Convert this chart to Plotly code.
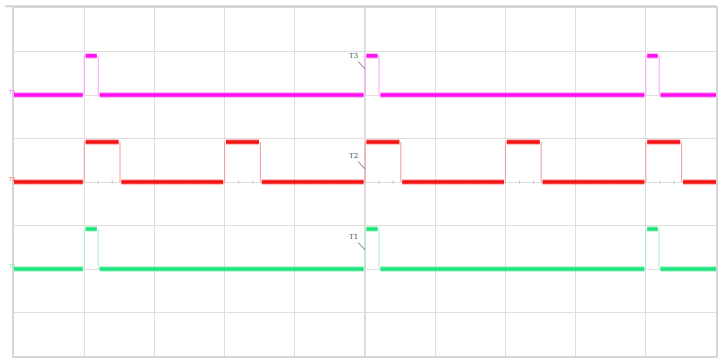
import plotly.graph_objects as go

# Screen: 10 horizontal x 8 vertical divisions
X_DIVS = 10
Y_DIVS = 8

channels = ["T3", "T2", "T1"]
trace_colors = ["#ff10f0", "#f41414", "#1ee47c"]
edge_colors = ["#f6a6f2", "#f49a9a", "#a8f0c8"]
low_levels = [6.0, 4.0, 2.0]          # divisions
high_levels = [6.9, 4.92, 2.92]       # divisions
rise_times = [
    [1.0, 5.0, 9.0],
    [1.0, 3.0, 5.0, 7.0, 9.0],
    [1.0, 5.0, 9.0],
]
fall_times = [
    [1.2, 5.2, 9.19],
    [1.51, 3.51, 5.51, 7.51, 9.51],
    [1.2, 5.2, 9.19],
]
# height of the channel marker's pointer tip above each ground level
marker_tip_heights = [0.6, 0.3, 0.44]

fig = go.Figure()

# minor ticks on the horizontal centre axis
tick_x, tick_y = [], []
for i in range(X_DIVS * 5 + 1):
    t = i / 5
    tick_x += [t, t, None]
    tick_y += [Y_DIVS / 2 - 0.04, Y_DIVS / 2 + 0.04, None]
fig.add_trace(go.Scatter(x=tick_x, y=tick_y, mode="lines",
                         line=dict(color="#c8c8c8", width=1),
                         hoverinfo="skip", showlegend=False))

for k, name in enumerate(channels):
    lo, hi = low_levels[k], high_levels[k]
    rises, falls = rise_times[k], fall_times[k]
    # thin transition edges
    ex, ey = [], []
    for r, f in zip(rises, falls):
        ex += [r, r, None, f, f, None]
        ey += [lo, hi, None, hi, lo, None]
    fig.add_trace(go.Scatter(x=ex, y=ey, mode="lines",
                             line=dict(color=edge_colors[k], width=1),
                             hoverinfo="skip", showlegend=False))
    # settled levels
    sx, sy = [], []
    start = 0.0
    gap = 0.02
    for r, f in zip(rises, falls):
        sx += [start + (gap if start > 0 else 0), r - gap, None, r + gap, f - gap, None]
        sy += [lo, lo, None, hi, hi, None]
        start = f
    sx += [start + gap, X_DIVS]
    sy += [lo, lo]
    fig.add_trace(go.Scatter(x=sx, y=sy, mode="lines",
                             line=dict(color=trace_colors[k], width=5.5),
                             opacity=0.35, hoverinfo="skip", showlegend=False))
    fig.add_trace(go.Scatter(x=sx, y=sy, mode="lines",
                             line=dict(color=trace_colors[k], width=3.5),
                             name=name, hoverinfo="skip", showlegend=False))
    # channel marker on the trigger edge
    fig.add_annotation(x=X_DIVS / 2, y=lo + marker_tip_heights[k],
                       xref="x", yref="y", text=name, showarrow=True,
                       arrowhead=0, arrowwidth=1, arrowcolor="#707070",
                       ax=-12, ay=-13,
                       font=dict(family="DejaVu Serif", size=7, color="#4a4a4a"),
                       xanchor="center", yanchor="middle")
    # ground level marker at the left edge
    fig.add_annotation(x=-0.011, y=lo + 0.08, xref="paper", yref="y", text=name,
                       showarrow=False, font=dict(family="DejaVu Sans", size=5,
                                                  color=trace_colors[k]),
                       opacity=0.7)

# outer frame: top rule reaches a little past the left edge
fig.add_shape(type="line", xref="paper", yref="paper", x0=-0.013, x1=1.0, y0=1.005, y1=1.005,
              line=dict(color="#d2d2d2", width=2))

axis_common = dict(showgrid=True, gridcolor="#dedede", gridwidth=1, zeroline=False,
                   showticklabels=False, ticks="", showline=True, linecolor="#d6d6d6",
                   linewidth=2, mirror=True, fixedrange=True)
fig.update_xaxes(range=[0, X_DIVS], dtick=1, tick0=0, **axis_common)
fig.update_yaxes(range=[0, Y_DIVS], dtick=1, tick0=0, **axis_common)

# darker vertical centre line
fig.add_shape(type="line", xref="x", yref="paper", x0=X_DIVS / 2, x1=X_DIVS / 2, y0=0, y1=1,
              line=dict(color="#b8b8b8", width=1), layer="below")

fig.update_layout(width=718, height=358,
                  margin=dict(l=14, r=0, t=8, b=2),
                  paper_bgcolor="white", plot_bgcolor="white")

fig.write_html("out.html")
